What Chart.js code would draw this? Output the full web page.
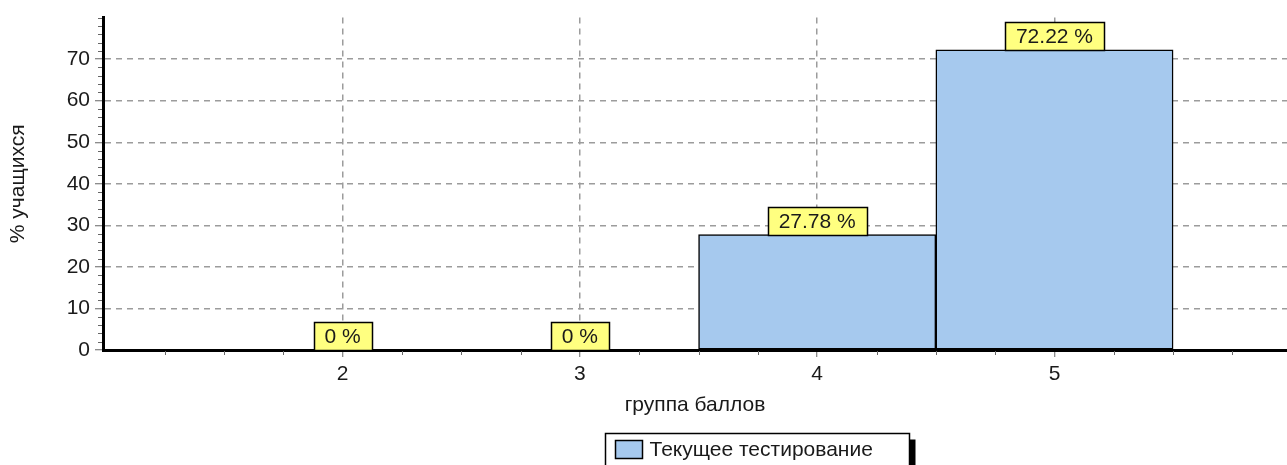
<!DOCTYPE html>
<html>
<head>
<meta charset="utf-8">
<script src="https://cdn.jsdelivr.net/npm/chart.js@4"></script>
<style>
  html, body { margin: 0; padding: 0; background: #fff; overflow: hidden; }
  #wrap { width: 1287px; height: 465px; position: relative; }
</style>
</head>
<body>
<div id="wrap"><canvas id="grafico"></canvas></div>
<script>
// dados
const grupos = [2, 3, 4, 5];
const percentuais = [0, 0, 27.78, 72.22];
const nomeSerie = 'Текущее тестирование';
const tituloX = 'группа баллов';
const tituloY = '% учащихся';

const fonte = '"Liberation Sans", Arial, sans-serif';
const corBarra = '#a6c9ee';
const corGrade = '#9c9c9c';
const corTexto = '#1a1a1a';

Chart.defaults.font.family = fonte;
Chart.defaults.font.size = 21;
Chart.defaults.color = corTexto;

// marcas menores nos eixos
const marcasMenores = {
  id: 'marcasMenores',
  afterDraw(chart) {
    const { ctx, chartArea } = chart;
    const sx = chart.scales.x;
    const sy = chart.scales.y;
    ctx.save();
    ctx.strokeStyle = '#666';
    ctx.lineWidth = 1;
    ctx.beginPath();
    for (let v = 1.25; v <= sx.max; v += 0.25) {
      if (Number.isInteger(v)) continue;
      const px = Math.round(sx.getPixelForValue(v)) + 0.5;
      ctx.moveTo(px, chartArea.bottom + 1);
      ctx.lineTo(px, chartArea.bottom + 5);
    }
    for (let v = sy.min + 2; v < sy.max + 1; v += 2) {
      if (v % 10 === 0 && v < sy.max) continue;
      const py = Math.round(sy.getPixelForValue(v)) + 0.5;
      ctx.moveTo(chartArea.left - 5, py);
      ctx.lineTo(chartArea.left - 1, py);
    }
    ctx.stroke();
    ctx.restore();
  }
};

// rótulos amarelos acima das barras
const rotulos = {
  id: 'rotulos',
  afterDatasetsDraw(chart) {
    const { ctx } = chart;
    const meta = chart.getDatasetMeta(0);
    ctx.save();
    ctx.font = '21px ' + fonte;
    ctx.textAlign = 'center';
    ctx.textBaseline = 'middle';
    meta.data.forEach((barra, i) => {
      const texto = percentuais[i] + ' %';
      const w = Math.round(ctx.measureText(texto).width + 22);
      const h = 28;
      const x = Math.round(barra.x - w / 2) + 0.5;
      const y = Math.round(barra.y - h) + 0.5;
      ctx.fillStyle = '#ffff80';
      ctx.fillRect(x, y, w, h);
      ctx.strokeStyle = '#000';
      ctx.lineWidth = 1.5;
      ctx.strokeRect(x, y, w, h);
      ctx.fillStyle = corTexto;
      ctx.fillText(texto, barra.x, y + h / 2 + 1);
    });
    ctx.restore();
  }
};

// legenda com sombra
const legenda = {
  id: 'legenda',
  afterDraw(chart) {
    const { ctx } = chart;
    const x = 605.5, y = 433.5, w = 304, h = 40;
    ctx.save();
    ctx.fillStyle = '#000';
    ctx.fillRect(x + w, y + 6, 6, h);
    ctx.fillStyle = '#fff';
    ctx.fillRect(x, y, w, h);
    ctx.strokeStyle = '#000';
    ctx.lineWidth = 1.5;
    ctx.strokeRect(x, y, w, h);
    ctx.fillStyle = corBarra;
    ctx.fillRect(x + 10, y + 7, 27, 18);
    ctx.strokeRect(x + 10, y + 7, 27, 18);
    ctx.fillStyle = corTexto;
    ctx.font = '21px ' + fonte;
    ctx.textBaseline = 'middle';
    ctx.textAlign = 'left';
    ctx.fillText(nomeSerie, x + 44, y + 17);
    ctx.restore();
  }
};

const ctx = document.getElementById('grafico').getContext('2d');

new Chart(ctx, {
  type: 'bar',
  data: {
    datasets: [
      {
        label: nomeSerie,
        data: grupos.map((g, i) => ({ x: g, y: percentuais[i] })),
        backgroundColor: corBarra,
        borderColor: '#000',
        borderWidth: 1.5,
        borderSkipped: false,
        barPercentage: 1,
        categoryPercentage: 1,
      },
    ],
  },
  options: {
    responsive: true,
    maintainAspectRatio: false,
    animation: false,
    layout: { padding: { top: 14, left: 0, right: 0, bottom: 0 } },
    plugins: {
      legend: { display: false },
      tooltip: { enabled: false },
    },
    scales: {
      x: {
        type: 'linear',
        min: 0.99,
        max: 5.98,
        offset: false,
        afterFit: (scale) => { scale.height = 115; },
        ticks: {
          stepSize: 1,
          autoSkip: false,
          includeBounds: false,
          padding: 5,
          callback: (v) => (grupos.includes(v) ? String(v) : ''),
        },
        grid: {
          offset: false,
          lineWidth: 1.5,
          color: (c) => (c.tick && grupos.includes(c.tick.value) ? corGrade : 'rgba(0,0,0,0)'),
          tickColor: (c) => (c.tick && grupos.includes(c.tick.value) ? '#666' : 'rgba(0,0,0,0)'),
          tickLength: 7,
          tickWidth: 1,
        },
        border: { color: '#000', width: 3, dash: [6, 5] },
        title: {
          display: true,
          text: tituloX,
          padding: { top: 0, bottom: 47 },
        },
      },
      y: {
        min: 0,
        max: 80,
        afterFit: (scale) => { scale.width = 103; },
        ticks: {
          stepSize: 10,
          autoSkip: false,
          padding: 5,
          callback: (v) => (v < 80 ? String(v) : ''),
        },
        grid: {
          lineWidth: 1.5,
          color: (c) => (c.tick && c.tick.value > 0 && c.tick.value < 80 ? corGrade : 'rgba(0,0,0,0)'),
          tickColor: (c) => (c.tick && c.tick.value < 80 ? '#666' : 'rgba(0,0,0,0)'),
          tickLength: 8,
          tickWidth: 1,
        },
        border: { color: '#000', width: 3, dash: [6, 5] },
        title: {
          display: true,
          text: tituloY,
          padding: { top: 6, bottom: 0 },
        },
      },
    },
  },
  plugins: [marcasMenores, rotulos, legenda],
});
</script>
</body>
</html>
